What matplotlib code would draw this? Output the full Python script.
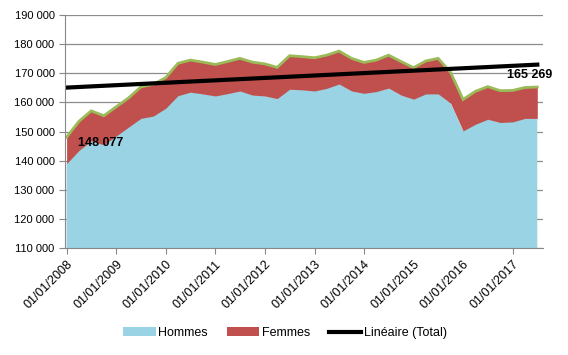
import pandas as pd
import matplotlib.pyplot as plt
import matplotlib.dates as mdates
import matplotlib.ticker as mticker
import numpy as np

plt.rcParams["font.family"] = ["Liberation Sans", "DejaVu Sans"]

# quarterly points, 2008-01 .. 2017-07
dates = pd.date_range("2008-01-01", "2017-07-01", freq="QS")

hommes = [
    139000, 143500, 146800, 145400,
    148500, 151500, 154500, 155300,
    158000, 162300, 163500, 162900,
    162200, 163000, 163900, 162500,
    162200, 161300, 164500, 164300,
    163900, 164800, 166300, 163900,
    163100, 163700, 164900, 162500,
    161100, 162900, 162900, 159700,
    150200, 152500, 154200, 153100,
    153300, 154500, 154500,
]
femmes = [
    9077, 10000, 10300, 10000,
    10000, 10000, 10800, 10900,
    10500, 11100, 11000, 10900,
    10800, 11000, 11200, 11300,
    11000, 10700, 11500, 11400,
    11400, 11400, 11300, 11200,
    10600, 10800, 11300, 11500,
    10800, 11300, 12200, 10600,
    10800, 11300, 11200, 10900,
    10800, 10600, 10769,
]

hommes = np.array(hommes)
femmes = np.array(femmes)
total = hommes + femmes

fig = plt.figure(figsize=(5.68, 3.55), dpi=100)
ax = fig.add_axes([0.1144, 0.301, 0.8416, 0.657])

ax.fill_between(dates, 0, hommes, color="#9ad3e3", linewidth=0, label="Hommes")
ax.fill_between(dates, hommes, total, color="#c0504d", linewidth=0, label="Femmes")
ax.plot(dates, total, color="#9bbb59", lw=2, solid_joinstyle="miter")

# linear trend of total
idx = np.arange(len(total))
slope, inter = np.polyfit(idx, total, 1)
ax.plot(dates, slope * idx + inter, color="black", lw=3, label="Linéaire (Total)")

ax.annotate(f"{total[0]:,}".replace(",", " "), (dates[0], total[0]),
            xytext=(11, -6), textcoords="offset pixels",
            fontsize=9, fontweight="bold", va="center", ha="left")
ax.annotate(f"{total[-1]:,}".replace(",", " "), (dates[-1], total[-1]),
            xytext=(-8, 12), textcoords="offset pixels",
            fontsize=9, fontweight="bold", va="center", ha="center")

ax.set_ylim(110000, 190000)
ax.set_xlim(pd.Timestamp("2007-12-20"), pd.Timestamp("2017-08-12"))
ax.yaxis.set_major_locator(mticker.MultipleLocator(10000))
ax.yaxis.set_major_formatter(mticker.FuncFormatter(lambda v, p: f"{int(v):,}".replace(",", " ")))
ax.xaxis.set_major_locator(mdates.YearLocator())
ax.xaxis.set_major_formatter(mdates.DateFormatter("%d/%m/%Y"))
plt.setp(ax.get_xticklabels(), rotation=45, ha="right", rotation_mode="anchor")
ax.tick_params(axis="both", labelsize=8, color="#888888", length=4)
ax.tick_params(axis="x", labelsize=9)

# 2015 and 2016 have labels but no tick mark in the original
fig.canvas.draw()
for t in ax.xaxis.get_major_ticks():
    if t.label1.get_text()[-4:] in ("2015", "2016"):
        t.tick1line.set_visible(False)

ax.grid(axis="y", color="#8c8c8c", lw=0.9)
ax.set_axisbelow(True)
for s in ["top", "right"]:
    ax.spines[s].set_visible(False)
ax.spines["left"].set_color("#888888")
ax.spines["bottom"].set_color("#888888")

fig.legend(loc="center", bbox_to_anchor=(0.502, 0.062), ncol=3, frameon=False,
           fontsize=9, handlelength=2.6, handleheight=0.7, columnspacing=1.5,
           handletextpad=0.2)

plt.savefig("out.png", dpi=100)
plt.close()
